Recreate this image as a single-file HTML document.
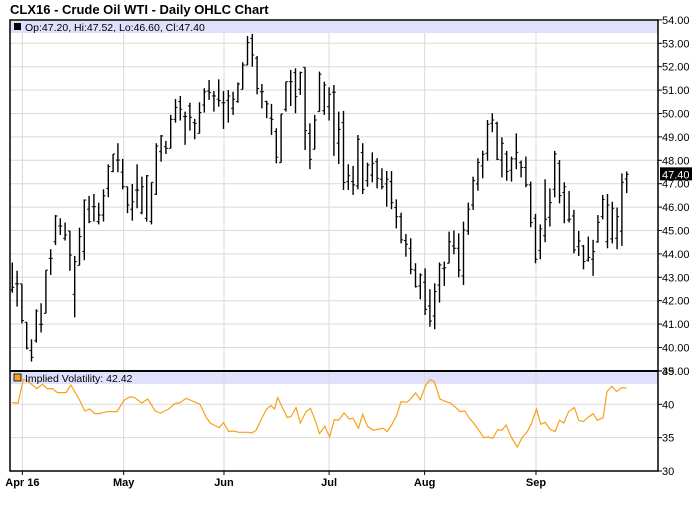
<!DOCTYPE html>
<html><head><meta charset="utf-8"><style>
body{margin:0;background:#fff;width:700px;height:512px;overflow:hidden;font-family:"Liberation Sans",Arial,sans-serif}
svg text{font-family:"Liberation Sans",Arial,sans-serif}
</style></head><body>
<svg id="chart" width="700" height="512" viewBox="0 0 700 512" xmlns="http://www.w3.org/2000/svg">
<text x="10" y="14" font-size="13" font-weight="bold" fill="#000">CLX16 - Crude Oil WTI - Daily OHLC Chart</text>
<rect x="10" y="21" width="648" height="12" fill="#e0e0fc"/>
<rect x="10" y="372" width="648" height="12" fill="#e0e0fc"/>
<g id="grid"></g>
<g id="bars"></g>
<g id="vol"></g>
<g id="axes"></g>
<rect x="14" y="23" width="7" height="7" fill="#000"/>
<text x="25" y="31" font-size="10.5" fill="#000">Op:47.20, Hi:47.52, Lo:46.60, Cl:47.40</text>
<rect x="14" y="374" width="7" height="7" fill="#f7a11a" stroke="#000" stroke-width="0.8"/>
<text x="25" y="382" font-size="10.5" fill="#000">Implied Volatility: 42.42</text>
</svg>
<script>
const opens=[42.46,42.72,42.72,41.08,39.87,40.29,40.99,41.46,43.81,44.52,45.19,44.67,44.98,42.27,43.51,44.10,45.91,46.02,45.38,45.66,46.80,47.52,48.01,47.49,46.87,45.91,46.73,45.76,45.52,45.38,46.55,48.37,48.58,48.51,49.75,50.51,49.87,50.32,49.61,49.15,50.36,50.96,50.75,50.61,50.46,50.55,50.22,50.51,51.03,52.07,53.21,52.36,50.93,50.51,49.80,49.23,47.90,50.18,51.36,51.75,51.03,51.97,49.15,48.47,50.08,50.12,50.29,50.91,48.73,49.61,47.09,47.09,46.90,48.33,47.13,47.37,47.94,47.19,46.99,47.09,45.98,45.59,44.57,44.24,43.31,42.63,42.79,41.77,41.35,42.67,43.38,43.60,44.34,44.24,43.06,44.98,46.09,46.99,47.76,48.30,49.58,49.58,48.01,48.27,47.57,48.06,47.90,47.69,46.95,45.52,44.14,44.78,45.56,46.76,47.87,46.62,45.45,45.62,44.31,44.34,43.73,43.77,44.51,45.59,44.52,44.64,44.67,44.97,47.20];
const highs=[43.63,43.28,42.72,41.08,40.35,41.63,41.89,43.31,44.20,45.66,45.52,45.34,44.98,43.91,45.12,46.33,46.48,46.56,46.19,46.76,47.83,48.27,48.73,48.06,46.87,46.99,47.83,47.30,47.37,47.06,48.73,49.08,48.83,49.94,50.62,50.75,50.08,50.46,49.77,50.48,51.08,51.43,50.96,51.46,50.96,51.00,50.93,51.33,52.19,53.31,53.40,52.46,51.26,50.55,50.41,49.37,49.98,51.36,51.86,51.93,51.79,51.97,49.58,49.94,51.79,51.36,51.12,51.22,50.08,50.11,47.83,47.76,49.08,48.73,47.90,48.34,48.09,47.66,47.54,47.54,46.33,45.76,44.85,44.67,43.60,43.17,43.38,42.49,42.74,43.63,43.67,44.95,45.00,44.88,45.38,46.19,47.30,48.09,48.41,49.72,50.01,49.65,48.98,48.40,48.16,49.15,47.99,48.16,47.09,45.71,45.26,47.19,46.80,48.40,48.01,47.06,46.69,45.88,44.98,44.38,44.74,44.60,45.66,46.52,46.56,46.23,45.98,47.44,47.52];
const lows=[42.34,41.75,41.03,39.92,39.40,40.21,40.64,41.46,43.10,44.38,44.81,44.57,43.28,41.29,43.51,43.73,45.31,45.38,45.26,45.38,46.42,47.49,47.49,46.76,45.74,45.42,45.95,45.69,45.38,45.26,46.52,47.94,48.27,48.51,49.61,49.70,48.66,49.27,48.90,49.15,50.04,50.58,50.08,50.29,49.34,49.61,49.94,50.46,51.03,52.07,52.00,50.82,50.22,49.80,49.08,47.87,47.90,50.08,50.32,50.01,50.79,48.44,47.62,48.47,50.08,49.94,49.70,48.19,47.84,46.73,46.73,46.52,46.76,46.56,46.87,47.06,46.80,46.76,46.02,45.91,45.09,44.45,43.88,43.13,42.56,42.06,41.39,40.89,40.78,41.92,42.63,43.60,43.98,43.00,42.67,44.81,45.88,46.70,47.23,47.98,49.20,48.01,47.27,47.13,47.09,47.62,47.27,46.85,45.14,43.60,43.77,44.50,45.17,46.42,46.16,45.31,45.34,44.03,43.91,43.34,43.67,43.06,44.48,45.48,44.24,44.45,44.20,44.34,46.60];
const closes=[42.57,42.72,41.15,39.97,39.58,41.56,40.99,43.31,43.81,45.62,45.19,44.81,43.95,43.67,44.74,46.30,45.38,46.02,45.66,46.48,47.73,48.27,48.01,46.87,46.09,46.23,46.73,46.87,47.34,47.06,48.61,49.04,48.51,49.75,50.26,50.18,49.87,49.84,49.58,50.04,50.93,50.89,50.75,50.55,50.46,50.75,50.61,51.26,52.07,53.03,52.50,51.07,50.93,50.41,49.75,48.13,49.98,51.36,51.36,50.72,51.75,49.27,48.04,49.72,51.68,51.22,50.82,50.91,49.32,47.05,47.34,46.95,48.90,46.76,47.80,47.87,47.23,46.87,47.19,46.19,45.59,44.60,44.41,43.34,42.60,43.10,41.63,41.13,42.39,43.53,43.41,44.52,44.24,43.31,45.02,45.91,47.13,47.91,48.26,49.54,49.72,48.04,48.73,47.52,48.06,48.34,47.69,46.95,45.34,43.77,45.07,45.48,46.19,48.27,46.49,46.87,45.48,44.17,44.55,43.67,43.85,44.10,45.35,46.33,46.09,45.95,45.59,47.06,47.40];
const volDay=[0,1.2,2.3,3.2,5.1,6.3,7.2,8.4,9.4,11.2,12.2,14,15.1,16.1,17.2,18.1,19.8,21.8,23.3,24.4,25.4,27,28.2,29.8,30.9,32.6,33.9,35,36.2,37.5,39.1,40.3,41.2,43.1,44,45.1,46,47.2,49.1,49.9,50.8,51.9,53,53.9,54.6,55.3,56.3,57.3,58.1,59.1,60,61.2,62.1,63.1,64,65.1,66.1,67.1,68,69.1,70.2,71,72.1,73,74,75.2,76.4,77.3,78.1,79.1,80.1,81,82.2,83.1,84,85,86.1,87,87.9,89.1,90.3,91.3,92.4,93.3,94.3,95.2,96.1,97.2,98.2,99.2,100.1,101.1,102,102.9,104,105.2,106.2,107.3,108.2,109.2,110.1,111,112.1,113.1,114,114.9,115.9,117.1,118,119,119.9,121,121.9,123.1,123.9,124.9,125.9,127,128];
const volValues=[40.26,40.2,43.75,43.5,42.36,43.0,42.36,42.36,41.76,41.76,42.9,40.65,39.0,39.3,38.6,38.6,38.9,38.9,40.6,41.1,41.05,40.2,40.8,39.0,38.7,39.3,40.1,40.25,40.9,40.5,40.0,38.2,37.2,36.5,37.25,35.9,36.0,35.8,35.8,35.7,36.1,37.8,39.3,39.8,39.3,41.0,39.5,38.0,38.2,39.5,37.2,38.9,39.4,37.6,35.6,36.7,35.1,37.7,37.6,38.7,37.8,37.9,36.4,38.5,36.7,36.1,36.3,36.4,35.9,37.0,38.4,40.4,40.3,40.9,41.7,40.7,42.8,43.7,43.4,40.8,40.4,40.2,39.5,38.9,39.0,37.9,37.2,36.1,35.0,35.1,34.9,36.2,36.1,36.9,35.0,33.6,35.0,35.9,37.2,39.3,37.0,37.3,36.2,35.9,37.6,37.2,38.9,39.5,37.6,37.4,38.0,38.6,37.6,38.0,41.9,42.7,41.9,42.5,42.42];
const priceTicks=[40,41,42,43,44,45,46,47,48,49,50,51,52,53,54];
const volTicks=[30,35,40,45];
const monthLabels=["Apr 16","May","Jun","Jul","Aug","Sep"];
const monthDays=[2.1,23.2,44.1,66,85.9,109.1];
const lastPrice=47.40;

const NS="http://www.w3.org/2000/svg";
const X0=12.3, DX=4.8, L=10, R=658;
const xOf=i=>X0+i*DX;
const pY=p=>43.3+(53-p)*23.4;
const vY=v=>471-(v-30)*6.67;
function mk(parent,tag,attrs){const e=document.createElementNS(NS,tag);for(const k in attrs)e.setAttribute(k,attrs[k]);document.getElementById(parent).appendChild(e);return e;}

// grid
priceTicks.forEach(t=>{if(t<54){const g=mk('grid','line',{x1:L,x2:R,y1:pY(t),y2:pY(t),stroke:'#d9d9d9','stroke-width':1});

}});
volTicks.forEach(t=>{if(t>30&&t<45){const g=mk('grid','line',{x1:L,x2:R,y1:vY(t),y2:vY(t),stroke:'#d9d9d9','stroke-width':1});

}});
monthDays.forEach(d=>{const x=xOf(d);const g=mk('grid','line',{x1:x,x2:x,y1:33,y2:471,stroke:'#d9d9d9','stroke-width':1});

});

// bars
for(let i=0;i<opens.length;i++){const x=xOf(i);
const g=mk('bars','g',{stroke:'#000','stroke-width':1.4});


const a=document.createElementNS(NS,'line');a.setAttribute('x1',x);a.setAttribute('x2',x);a.setAttribute('y1',pY(highs[i]));a.setAttribute('y2',pY(lows[i]));g.appendChild(a);
const o=document.createElementNS(NS,'line');o.setAttribute('x1',x-2);o.setAttribute('x2',x);o.setAttribute('y1',pY(opens[i]));o.setAttribute('y2',pY(opens[i]));o.setAttribute('stroke-width',1);g.appendChild(o);
const c=document.createElementNS(NS,'line');c.setAttribute('x1',x);c.setAttribute('x2',x+2);c.setAttribute('y1',pY(closes[i]));c.setAttribute('y2',pY(closes[i]));c.setAttribute('stroke-width',1);g.appendChild(c);}

// vol line
const pts=volDay.map((d,i)=>xOf(d).toFixed(1)+','+vY(volValues[i]).toFixed(1)).join(' ');
const vl=mk('vol','polyline',{points:pts,fill:'none',stroke:'#f7a11a','stroke-width':1.2});



// axes
const fr=mk('axes','rect',{x:L,y:20,width:R-L,height:451,fill:'none',stroke:'#000','stroke-width':1.5});


const dv=mk('axes','line',{x1:L,x2:R,y1:371,y2:371,stroke:'#000','stroke-width':2});


priceTicks.concat([39]).forEach(t=>{const y=pY(t);
const tk=mk('axes','line',{x1:R,x2:R+4,y1:y,y2:y,stroke:'#000'});


const tx=mk('axes','text',{x:R+4,y:y+4,'font-size':11,fill:'#000'});tx.textContent=t.toFixed(2);

});
volTicks.forEach(t=>{const y=vY(t);
const tk=mk('axes','line',{x1:R,x2:R+4,y1:y,y2:y,stroke:'#000'});


const tx=mk('axes','text',{x:R+4,y:y+4,'font-size':11,fill:'#000'});tx.textContent=t;

});
monthLabels.forEach((m,i)=>{const x=xOf(monthDays[i]);
const tk=mk('axes','line',{x1:x,x2:x,y1:471,y2:475,stroke:'#000'});


const tx=mk('axes','text',{x:x,y:486,'font-size':11,'font-weight':'bold','text-anchor':'middle',fill:'#000'});tx.textContent=m;

});
const ly=pY(lastPrice);
const lb=mk('axes','rect',{x:R+2,y:ly-7,width:32,height:13,fill:'#000'});


const lt=mk('axes','text',{x:R+4,y:ly+4,'font-size':11,fill:'#fff'});lt.textContent=lastPrice.toFixed(2);


</script>
</body></html>
